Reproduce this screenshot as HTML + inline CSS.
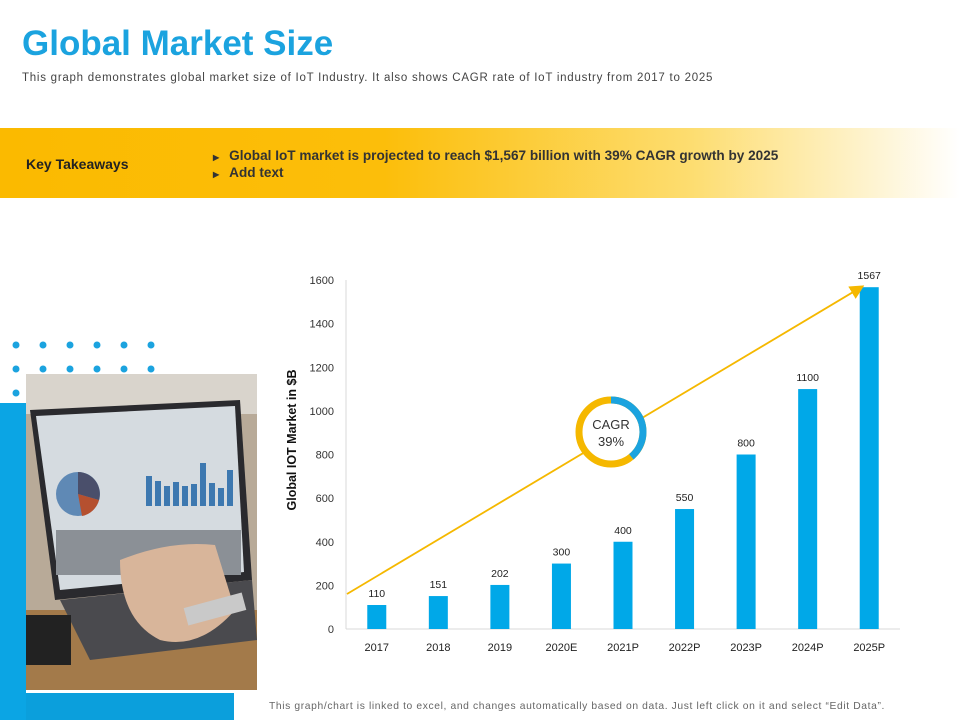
<!DOCTYPE html>
<html><head><meta charset="utf-8"><style>
body{margin:0;width:960px;height:720px;overflow:hidden;background:#fff;font-family:"Liberation Sans",sans-serif;position:relative}
.abs{position:absolute}
</style></head><body>
<div class="abs" style="left:22px;top:24px;font-size:35px;font-weight:bold;color:#1BA3DF">Global Market Size</div>
<div class="abs" style="left:22px;top:72px;font-size:11.5px;letter-spacing:0.75px;color:#444">This graph demonstrates global market size of IoT Industry. It also shows CAGR rate of IoT industry from 2017 to 2025</div>
<div class="abs" style="left:0;top:128px;width:960px;height:70px;background:linear-gradient(90deg,#FBBA00 0%,#FCBE0A 40%,#FDDD70 72%,#fff 100%)">
 <div class="abs" style="left:26px;top:28px;font-size:14px;font-weight:bold;color:#222">Key Takeaways</div>
 <div class="abs" style="left:213px;top:20px;font-size:13.6px;font-weight:bold;color:#333"><span style="font-size:8px;margin-right:10px">&#9654;</span>Global IoT market is projected to reach $1,567 billion with 39% CAGR growth by 2025</div>
 <div class="abs" style="left:213px;top:37px;font-size:13.6px;font-weight:bold;color:#333"><span style="font-size:8px;margin-right:10px">&#9654;</span>Add text</div>
</div>
<svg class="abs" style="left:0;top:0" width="960" height="720">
 <g fill="#1BA3DF">
  <circle cx="16" cy="345" r="3.5"/><circle cx="43" cy="345" r="3.5"/><circle cx="70" cy="345" r="3.5"/><circle cx="97" cy="345" r="3.5"/><circle cx="124" cy="345" r="3.5"/><circle cx="151" cy="345" r="3.5"/>
  <circle cx="16" cy="369" r="3.5"/><circle cx="43" cy="369" r="3.5"/><circle cx="70" cy="369" r="3.5"/><circle cx="97" cy="369" r="3.5"/><circle cx="124" cy="369" r="3.5"/><circle cx="151" cy="369" r="3.5"/>
  <circle cx="16" cy="393" r="3.5"/>
 </g>
 <rect x="0" y="403" width="26" height="317" fill="#0BA5E4"/>
 <rect x="26" y="693" width="208" height="27" fill="#0B9FDC"/>
 <g>
  <rect x="26" y="374" width="231" height="316" fill="#b8aa98"/>
  <rect x="26" y="374" width="231" height="40" fill="#d9d4cc"/>
  <rect x="26" y="610" width="231" height="80" fill="#a37a4a"/>
  <polygon points="30,410 240,400 252,580 55,600" fill="#2a2a2e"/>
  <polygon points="36,416 235,406 244,572 60,590" fill="#d5dbe0"/>
  <circle cx="78" cy="494" r="22" fill="#5f89b5"/>
  <path d="M78,494 L78,472 A22,22 0 0 1 99,500 Z" fill="#4a4f6b"/>
  <path d="M78,494 L99,500 A22,22 0 0 1 82,516 Z" fill="#b5502f"/>
  <g fill="#3d78b0"><rect x="146" y="476" width="6" height="30"/><rect x="155" y="481" width="6" height="25"/><rect x="164" y="486" width="6" height="20"/><rect x="173" y="482" width="6" height="24"/><rect x="182" y="486" width="6" height="20"/><rect x="191" y="484" width="6" height="22"/><rect x="200" y="463" width="6" height="43"/><rect x="209" y="483" width="6" height="23"/><rect x="218" y="488" width="6" height="18"/><rect x="227" y="470" width="6" height="36"/></g>
  <rect x="56" y="530" width="185" height="45" fill="#8b9096"/>
  <polygon points="60,600 252,580 257,640 90,660" fill="#4a4a4e"/>
  <path d="M120,560 Q170,540 215,545 L235,610 Q200,650 160,640 Q120,620 120,560 Z" fill="#d8b59a"/>
  <rect x="185" y="600" width="60" height="18" fill="#c9c9c9" transform="rotate(-15 215 609)"/>
  <rect x="26" y="615" width="45" height="50" fill="#222"/>
 </g>
</svg>
<svg id="chart" class="abs" style="left:0;top:0" width="960" height="720"></svg>
<div class="abs" style="left:269px;top:701px;font-size:10.3px;letter-spacing:0.62px;color:#666">This graph/chart is linked to excel, and changes automatically based on data. Just left click on it and select “Edit Data”.</div>
<script>
const categories=["2017","2018","2019","2020E","2021P","2022P","2023P","2024P","2025P"];
const values=[110,151,202,300,400,550,800,1100,1567];
const ticks=[0,200,400,600,800,1000,1200,1400,1600];
const cagrLabel=["CAGR","39%"];
const NS="http://www.w3.org/2000/svg";
const svg=document.getElementById('chart');
const L=346,R=900,Y0=629,Y1=280,MAX=1600;
const y=v=>Y0-(v/MAX)*(Y0-Y1);
const step=(R-L)/categories.length;
const x=i=>L+step*(i+0.5);
function mk(t,a){const e=document.createElementNS(NS,t);for(const k in a)e.setAttribute(k,a[k]);svg.appendChild(e);return e;}
let ax=mk('line',{x1:L,y1:Y1,x2:L,y2:Y0,stroke:'#d9d9d9'});


let bx=mk('line',{x1:L,y1:Y0,x2:R,y2:Y0,stroke:'#d9d9d9'});


ticks.forEach(t=>{const e=mk('text',{x:334,y:y(t)+4,'text-anchor':'end','font-size':11,fill:'#333'});e.textContent=t;

});
const yt=mk('text',{x:0,y:0,transform:'translate(296,440) rotate(-90)','text-anchor':'middle','font-size':12.5,'font-weight':'bold',fill:'#111'});
yt.textContent='Global IOT Market in $B';


const defs=mk('defs',{});
defs.innerHTML='<marker id="ah" markerWidth="8" markerHeight="8" refX="6" refY="4" orient="auto"><path d="M0,0 L8,4 L0,8 Z" fill="#F5B800"/></marker>';
categories.forEach((c,i)=>{
 const b=mk('rect',{x:x(i)-9.5,y:y(values[i]),width:19,height:Y0-y(values[i]),fill:'#00A8E8'});
 
 
 const v=mk('text',{x:x(i),y:y(values[i])-8,'text-anchor':'middle','font-size':10.5,fill:'#222'});v.textContent=values[i];
 
 
 const l=mk('text',{x:x(i),y:651,'text-anchor':'middle','font-size':11,fill:'#222'});l.textContent=c;
 
 
});
const ar=mk('line',{x1:L+1,y1:594,x2:x(8)-8,y2:y(values[8])-0,stroke:'#F5B800','stroke-width':1.8,'marker-end':'url(#ah)'});


const cx=611,cy=432,r=32;
const c1=mk('circle',{cx:cx,cy:cy,r:r,fill:'#fff',stroke:'#F5B800','stroke-width':7});


const circ=2*Math.PI*r,pct=0.39;
const c2=mk('circle',{cx:cx,cy:cy,r:r,fill:'none',stroke:'#1BA3DF','stroke-width':7,'stroke-dasharray':(circ*pct)+' '+circ,transform:`rotate(-90 ${cx} ${cy})`});


cagrLabel.forEach((s,i)=>{const t=mk('text',{x:cx,y:cy-3+i*17,'text-anchor':'middle','font-size':13,fill:'#333'});t.textContent=s;

});
</script>
</body></html>
